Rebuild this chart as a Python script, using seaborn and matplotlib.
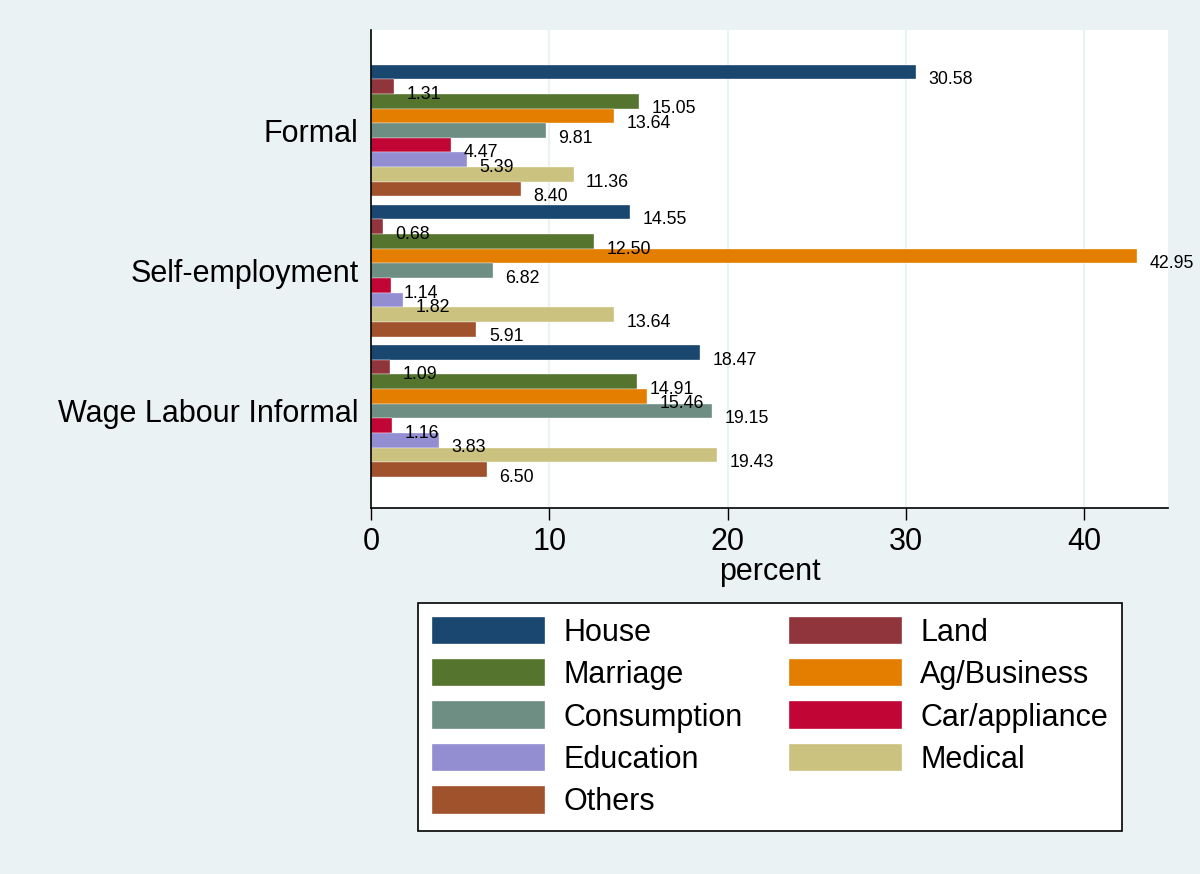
import pandas as pd
import matplotlib.pyplot as plt
import seaborn as sns

groups = ['Formal', 'Self-employment', 'Wage Labour Informal']
purposes = ['House', 'Land', 'Marriage', 'Ag/Business', 'Consumption',
            'Car/appliance', 'Education', 'Medical', 'Others']
formal = [30.58, 1.31, 15.05, 13.64, 9.81, 4.47, 5.39, 11.36, 8.40]
self_emp = [14.55, 0.68, 12.50, 42.95, 6.82, 1.14, 1.82, 13.64, 5.91]
wage_inf = [18.47, 1.09, 14.91, 15.46, 19.15, 1.16, 3.83, 19.43, 6.50]
colors = ['#1a476f', '#90353b', '#55752f', '#e37e00', '#6e8e84',
          '#c10534', '#938dd2', '#cac27e', '#a0522d']

rows = []
for g, vals in zip(groups, [formal, self_emp, wage_inf]):
    for p, v in zip(purposes, vals):
        rows.append({'group': g, 'purpose': p, 'percent': v})
df = pd.DataFrame(rows)

sns.set_style('white')
plt.rcParams['font.family'] = ['Liberation Sans', 'DejaVu Sans']
plt.rcParams['text.color'] = 'black'
plt.rcParams['xtick.color'] = 'black'
plt.rcParams['ytick.color'] = 'black'
plt.rcParams['axes.labelcolor'] = 'black'
bg = '#eaf2f3'

fig = plt.figure(figsize=(12, 8.74), dpi=100, facecolor=bg)
ax = fig.add_axes([0.3092, 0.4188, 0.6641, 0.5469])
ax.set_facecolor('white')

sns.barplot(data=df, x='percent', y='group', hue='purpose', order=groups,
            hue_order=purposes, palette=colors, orient='h', width=0.94,
            edgecolor='white', linewidth=0.25, saturation=1, ax=ax, legend=True)

# value labels at bar ends
for cont in ax.containers:
    for rect in cont:
        w = rect.get_width()
        yc = rect.get_y() + rect.get_height() / 2
        ax.annotate('%.2f' % w, (w, yc), xytext=(9, -5.5),
                    textcoords='offset points', ha='left', va='center',
                    fontsize=12.8, color='black')

ax.set_xlim(0, 44.7)
ax.set_ylim(2.692, -0.717)
ax.set_xticks([0, 10, 20, 30, 40])
ax.xaxis.grid(True, color=bg, linewidth=1.6)
ax.set_axisbelow(True)
ax.tick_params(axis='x', length=8.5, width=1, color='black', labelsize=22, pad=5, direction='out', bottom=True)
ax.tick_params(axis='y', length=0, labelsize=22, pad=9)
ax.set_xlabel('percent', fontsize=22, labelpad=0)
ax.set_ylabel('')
for s in ['top', 'right']:
    ax.spines[s].set_visible(False)
for s in ['left', 'bottom']:
    ax.spines[s].set_color('black')
    ax.spines[s].set_linewidth(1.2)

handles, labels = ax.get_legend_handles_labels()
ax.get_legend().remove()
idx = [0, 2, 4, 6, 8, 1, 3, 5, 7]
leg = fig.legend([handles[i] for i in idx], [labels[i] for i in idx],
                 loc='center', bbox_to_anchor=(0.6417, 0.1796), ncol=2,
                 fontsize=22, frameon=True, fancybox=False, framealpha=1,
                 handlelength=3.7, handleheight=1.0, handletextpad=0.6,
                 columnspacing=1.5, labelspacing=0.37, borderpad=0.45)
leg.get_frame().set_edgecolor('black')
leg.get_frame().set_linewidth(1.2)
leg.get_frame().set_facecolor('white')

fig.savefig('out.png', dpi=100, facecolor=bg)
